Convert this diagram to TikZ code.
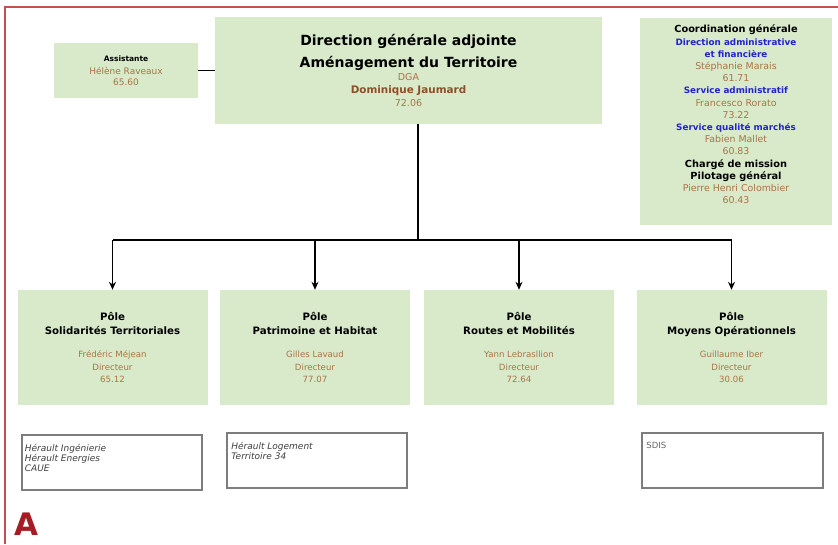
\documentclass[tikz,border=0pt]{standalone}
\usepackage{fontspec}
\setmainfont{DejaVu Sans}
\usetikzlibrary{arrows.meta}
\definecolor{boxgreen}{RGB}{216,234,202}
\definecolor{namebrown}{RGB}{170,115,70}
\definecolor{darkbrown}{RGB}{140,80,40}
\definecolor{titleblue}{RGB}{35,35,205}
\definecolor{framered}{RGB}{196,80,80}
\definecolor{letterred}{RGB}{165,28,36}
\definecolor{entgray}{RGB}{125,125,125}
% per-line text styles
\newcommand{\ttl}[1]{{\fontsize{14}{19}\selectfont\textbf{#1}}}
\newcommand{\dgb}[1]{{\fontsize{9.5}{13}\selectfont\textcolor{namebrown}{#1}}}
\newcommand{\dgn}[1]{{\fontsize{10.4}{13}\selectfont\textcolor{darkbrown}{\textbf{#1}}}}
\newcommand{\pt}[1]{{\fontsize{10.2}{14}\selectfont\textbf{#1}}}
\newcommand{\pb}[1]{{\fontsize{8.6}{12}\selectfont\textcolor{namebrown}{#1}}}
\newcommand{\cbk}[1]{{\fontsize{9.8}{12}\selectfont\textbf{#1}}}
\newcommand{\cbl}[1]{{\fontsize{8.8}{12}\selectfont\textcolor{titleblue}{\textbf{#1}}}}
\newcommand{\cbr}[1]{{\fontsize{9.4}{12}\selectfont\textcolor{namebrown}{#1}}}
\newcommand{\asb}[1]{{\fontsize{7.5}{12}\selectfont\textbf{#1}}}
\newcommand{\asr}[1]{{\fontsize{9}{12}\selectfont\textcolor{namebrown}{#1}}}
\begin{document}
\begin{tikzpicture}[x=1pt,y=-1pt,
  gbox/.style={rectangle, fill=boxgreen, draw=none, align=center, inner sep=0pt},
  ebox/.style={rectangle, draw=entgray, line width=1.7pt, fill=white, inner sep=0pt},
  conn/.style={line width=1.2pt, draw=black},
  arr/.style={conn, -{Stealth[length=8pt,width=7pt]}},
  enttext/.style={anchor=north west, align=left, font=\fontsize{9}{10.2}\selectfont\itshape, text=black!75, inner sep=0pt},
  pole/.style={gbox, minimum width=190, minimum height=115}
]
\useasboundingbox (0,0) rectangle (838,544);
\fill[white] (0,0) rectangle (838,544);
% frame
\draw[framered, line width=1.4pt] (5,544) -- (5,7) -- (838,7);

% Assistante
\node[gbox, font=\fontsize{8}{12.5}\selectfont, minimum width=144, minimum height=55] (asst) at (126,70.5)
  {\asb{Assistante}\\[1pt] \asr{Hélène Raveaux}\\[-2pt] \asr{65.60}};

% DGA
\node[gbox, font=\fontsize{9.5}{13}\selectfont, minimum width=387, minimum height=107] (dga) at (408.5,70.5)
  {\ttl{Direction générale adjointe}\\[6pt] \ttl{Aménagement du Territoire}\\[0pt]
   \dgb{DGA}\\ \dgn{Dominique Jaumard}\\ \dgb{72.06}};

% Coordination
\node[gbox, minimum width=192, minimum height=207] (coord) at (736,121.5) {};
\node[inner sep=0pt, align=center, font=\fontsize{8.3}{12.2}\selectfont] (coordtxt) at (736,114.5)
  {\cbk{Coordination générale}\\
   \cbl{Direction administrative}\\
   \cbl{et financière}\\
   \cbr{Stéphanie Marais}\\
   \cbr{61.71}\\
   \cbl{Service administratif}\\
   \cbr{Francesco Rorato}\\
   \cbr{73.22}\\
   \cbl{Service qualité marchés}\\
   \cbr{Fabien Mallet}\\
   \cbr{60.83}\\
   \cbk{Chargé de mission}\\
   \cbk{Pilotage général}\\
   \cbr{Pierre Henri Colombier}\\
   \cbr{60.43}};

% Poles
\node[pole, font=\fontsize{9}{12.5}\selectfont] (p1) at (112.5,347.5)
  {\pt{Pôle}\\[1.5pt] \pt{Solidarités Territoriales}\\[11pt]
   \pb{Frédéric Méjean}\\ \pb{Directeur}\\ \pb{65.12}};
\node[pole, font=\fontsize{9}{12.5}\selectfont] (p2) at (315,347.5)
  {\pt{Pôle}\\[1.5pt] \pt{Patrimoine et Habitat}\\[11pt]
   \pb{Gilles Lavaud}\\ \pb{Directeur}\\ \pb{77.07}};
\node[pole, font=\fontsize{9}{12.5}\selectfont] (p3) at (519,347.5)
  {\pt{Pôle}\\[1.5pt] \pt{Routes et Mobilités}\\[11pt]
   \pb{Yann Lebrasllion}\\ \pb{Directeur}\\ \pb{72.64}};
\node[pole, font=\fontsize{9}{12.5}\selectfont] (p4) at (731.5,347.5)
  {\pt{Pôle}\\[1.5pt] \pt{Moyens Opérationnels}\\[11pt]
   \pb{Guillaume Iber}\\ \pb{Directeur}\\ \pb{30.06}};

% Entity boxes
\node[ebox, minimum width=180, minimum height=55] (e1) at (112,462.5) {};
\node[enttext] (t1) at ([xshift=3.5pt,yshift=-10pt]e1.north west) {Hérault Ingénierie\\ Hérault Energies\\ CAUE};
\node[ebox, minimum width=180, minimum height=55] (e2) at (317,460.5) {};
\node[enttext] (t2) at ([xshift=5pt,yshift=-10pt]e2.north west) {Hérault Logement\\ Territoire 34};
\node[ebox, minimum width=181, minimum height=55] (e4) at (732.5,460.5) {};
\node[enttext, font=\fontsize{8.5}{10}\selectfont, text=black!60] (t4) at ([xshift=5pt,yshift=-10pt]e4.north west) {SDIS};

% Connectors
\draw[conn] (asst.east) -- (dga.west);
\coordinate (bus) at (418,240);
\draw[conn] (bus |- dga.south) -- (bus);
\draw[conn] (bus) -- (bus -| p1.north);
\draw[conn] (bus) -- (bus -| p4.north);
\draw[arr] (bus -| p1.north) -- (p1.north);
\draw[arr] (bus -| p2.north) -- (p2.north);
\draw[arr] (bus -| p3.north) -- (p3.north);
\draw[arr] (bus -| p4.north) -- (p4.north);

% Letter
\node[anchor=south west, inner sep=0pt, text=letterred, font=\fontsize{31}{31}\selectfont\bfseries] (lettera) at (14,536) {A};
\end{tikzpicture}
\end{document}
